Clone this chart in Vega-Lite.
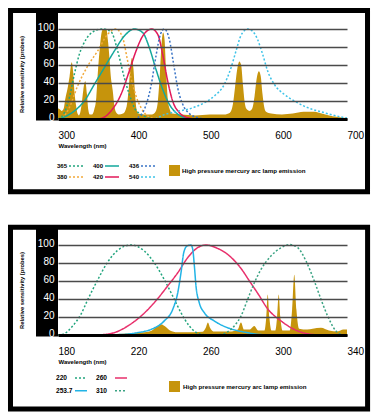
{
  "$schema": "https://vega.github.io/schema/vega-lite/v6.json",
  "padding": {"left": 7, "top": 7, "right": 0, "bottom": 0},
  "background": "white",
  "spacing": 29,
  "resolve": {
    "scale": {"stroke": "independent", "strokeDash": "independent", "fill": "independent"},
    "legend": {"stroke": "independent", "strokeDash": "independent", "fill": "independent"}
  },
  "config": {
    "view": {"stroke": null},
    "font": "Liberation Sans",
    "axisX": {"domain": true, "domainColor": "black", "domainWidth": 3, "ticks": false, "tickSize": 0, "grid": false, "labelAlign": "left", "labelBaseline": "top", "labelFlush": false, "labelOverlap": false, "labelFontSize": 10, "labelColor": "black", "labelPadding": 11, "titleFontSize": 6, "titleFontWeight": "bold", "titleColor": "black", "titleAnchor": "start", "titleAlign": "left", "titlePadding": 2},
    "axisY": {"domain": false, "ticks": false, "tickSize": 0, "grid": true, "gridColor": "#4a4a4a", "gridWidth": 1.6, "labelColor": "white", "labelFontSize": 10, "labelAlign": "right", "labelBaseline": "middle", "labelPadding": 4, "labelOffset": -2, "labelFlush": false, "labelOverlap": false, "titleFontSize": 5.8, "titleFontWeight": "bold", "titleColor": "black", "titlePadding": 12.5, "titleY": 61},
    "legend": {"orient": "none", "padding": 0, "labelFontSize": 6, "labelFontWeight": "bold", "labelColor": "black", "symbolStrokeWidth": 1.5, "labelLimit": 300}
  },
  "vconcat": [
    {
      "width": 289,
      "height": 106,
      "layer": [
        {
          "data": {"values": [{}]},
          "mark": {"type": "rect", "color": "black"},
          "encoding": {
            "x": {"datum": 269.55, "type": "quantitative", "title": "Wavelength (nm)", "scale": {"domain": [300, 700], "nice": false, "zero": false}, "axis": {"values": [300, 400, 500, 600, 700], "zindex": 1}},
            "x2": {"datum": 300},
            "y": {"datum": -1.7, "type": "quantitative", "title": "Relative sensitivity (probes)", "scale": {"domain": [0, 117.8], "nice": false}, "axis": {"values": [0, 20, 40, 60, 80, 100], "zindex": 1}},
            "y2": {"datum": 117.8}
          }
        },
        {
          "data": {"values": [
            {"nm": 300, "v": 12}, {"nm": 302, "v": 11}, {"nm": 305, "v": 9}, {"nm": 308, "v": 12}, {"nm": 310, "v": 22}, {"nm": 313, "v": 33}, {"nm": 316, "v": 47}, {"nm": 319, "v": 63}, {"nm": 321, "v": 52}, {"nm": 323, "v": 28}, {"nm": 325, "v": 15}, {"nm": 327, "v": 6}, {"nm": 329, "v": 4}, {"nm": 331, "v": 8}, {"nm": 333, "v": 18}, {"nm": 335, "v": 32}, {"nm": 337.8, "v": 42}, {"nm": 340, "v": 28}, {"nm": 342, "v": 10}, {"nm": 344, "v": 5}, {"nm": 347, "v": 5}, {"nm": 350, "v": 10}, {"nm": 353, "v": 24}, {"nm": 355, "v": 50}, {"nm": 358, "v": 80}, {"nm": 361, "v": 98}, {"nm": 363, "v": 100}, {"nm": 367, "v": 100}, {"nm": 369, "v": 88}, {"nm": 371, "v": 70}, {"nm": 373, "v": 48}, {"nm": 375.7, "v": 32}, {"nm": 378, "v": 15}, {"nm": 380, "v": 8}, {"nm": 384, "v": 5}, {"nm": 390, "v": 6}, {"nm": 395, "v": 14}, {"nm": 398, "v": 35}, {"nm": 400.5, "v": 60}, {"nm": 402.5, "v": 68}, {"nm": 404.5, "v": 55}, {"nm": 406.5, "v": 30}, {"nm": 408.5, "v": 12}, {"nm": 411, "v": 6}, {"nm": 420, "v": 5}, {"nm": 430, "v": 5}, {"nm": 435, "v": 8}, {"nm": 438, "v": 18}, {"nm": 441, "v": 50}, {"nm": 443.5, "v": 85}, {"nm": 445.5, "v": 96}, {"nm": 447.5, "v": 88}, {"nm": 449.5, "v": 55}, {"nm": 452, "v": 22}, {"nm": 455, "v": 10}, {"nm": 458, "v": 6}, {"nm": 470, "v": 5}, {"nm": 490, "v": 4}, {"nm": 510, "v": 5}, {"nm": 530, "v": 5}, {"nm": 538, "v": 7}, {"nm": 542, "v": 16}, {"nm": 545, "v": 35}, {"nm": 548, "v": 55}, {"nm": 551, "v": 64}, {"nm": 553.5, "v": 60}, {"nm": 556, "v": 38}, {"nm": 558.5, "v": 18}, {"nm": 561, "v": 11}, {"nm": 565, "v": 9}, {"nm": 569, "v": 12}, {"nm": 572, "v": 25}, {"nm": 575, "v": 45}, {"nm": 578, "v": 53}, {"nm": 580.5, "v": 48}, {"nm": 583, "v": 28}, {"nm": 585.5, "v": 13}, {"nm": 588, "v": 8}, {"nm": 595, "v": 6}, {"nm": 610, "v": 5}, {"nm": 625, "v": 6}, {"nm": 640, "v": 8}, {"nm": 655, "v": 8}, {"nm": 665, "v": 6}, {"nm": 680, "v": 3}, {"nm": 690, "v": 2}, {"nm": 700, "v": 1}
          ]},
          "mark": {"type": "area", "interpolate": "monotone", "opacity": 1},
          "encoding": {
            "x": {"field": "nm", "type": "quantitative", "title": "Wavelength (nm)", "axis": {"values": [300, 400, 500, 600, 700], "zindex": 1}},
            "y": {"field": "v", "type": "quantitative", "title": "Relative sensitivity (probes)", "axis": {"values": [0, 20, 40, 60, 80, 100], "zindex": 1}},
            "fill": {"datum": "High pressure mercury arc lamp emission", "type": "nominal", "scale": {"range": ["#c6940c"]}, "legend": {"title": null, "symbolType": "square", "symbolSize": 121, "symbolStrokeWidth": 0, "labelOffset": 2, "labelFontSize": 6.2, "legendX": 111, "legendY": 152}}
          }
        },
        {
          "data": {"values": [
            {"s": "365", "nm": 300, "v": 0}, {"s": "365", "nm": 302, "v": 0.7}, {"s": "365", "nm": 308.8, "v": 7}, {"s": "365", "nm": 315.7, "v": 23.7}, {"s": "365", "nm": 322.6, "v": 49.6}, {"s": "365", "nm": 329.5, "v": 71.8}, {"s": "365", "nm": 338.8, "v": 88.5}, {"s": "365", "nm": 350.3, "v": 97.8}, {"s": "365", "nm": 362, "v": 100}, {"s": "365", "nm": 373.4, "v": 97}, {"s": "365", "nm": 382.6, "v": 75.6}, {"s": "365", "nm": 391.8, "v": 45.9}, {"s": "365", "nm": 398.7, "v": 27.4}, {"s": "365", "nm": 405.7, "v": 12.6}, {"s": "365", "nm": 414.9, "v": 5}, {"s": "365", "nm": 425, "v": 1.5}, {"s": "365", "nm": 435, "v": 0},
            {"s": "380", "nm": 306.5, "v": 0.7}, {"s": "380", "nm": 315.7, "v": 12.6}, {"s": "380", "nm": 327.2, "v": 36.7}, {"s": "380", "nm": 341.1, "v": 58.9}, {"s": "380", "nm": 354.9, "v": 75.6}, {"s": "380", "nm": 368.7, "v": 94.1}, {"s": "380", "nm": 380.3, "v": 100}, {"s": "380", "nm": 389.5, "v": 90.4}, {"s": "380", "nm": 395.5, "v": 68.1}, {"s": "380", "nm": 401, "v": 45.9}, {"s": "380", "nm": 408, "v": 25.6}, {"s": "380", "nm": 414.9, "v": 12.6}, {"s": "380", "nm": 424.1, "v": 3.3}, {"s": "380", "nm": 433, "v": 0.5},
            {"s": "400", "nm": 302, "v": 0}, {"s": "400", "nm": 322.6, "v": 8.9}, {"s": "400", "nm": 336.5, "v": 20}, {"s": "400", "nm": 350.3, "v": 38.5}, {"s": "400", "nm": 364.1, "v": 57}, {"s": "400", "nm": 378, "v": 75.6}, {"s": "400", "nm": 391.8, "v": 92.2}, {"s": "400", "nm": 405.7, "v": 100}, {"s": "400", "nm": 417.2, "v": 96}, {"s": "400", "nm": 426.4, "v": 79.3}, {"s": "400", "nm": 435.6, "v": 55.2}, {"s": "400", "nm": 444.9, "v": 33}, {"s": "400", "nm": 454.1, "v": 16.3}, {"s": "400", "nm": 463.3, "v": 7}, {"s": "400", "nm": 474.9, "v": 1.5}, {"s": "400", "nm": 485, "v": 0},
            {"s": "420", "nm": 355, "v": 0}, {"s": "420", "nm": 365, "v": 2.5}, {"s": "420", "nm": 373.4, "v": 8.9}, {"s": "420", "nm": 387.2, "v": 27.4}, {"s": "420", "nm": 398.7, "v": 53.3}, {"s": "420", "nm": 408, "v": 75.6}, {"s": "420", "nm": 417.2, "v": 92.2}, {"s": "420", "nm": 429.7, "v": 100}, {"s": "420", "nm": 438, "v": 94.1}, {"s": "420", "nm": 444.9, "v": 71.8}, {"s": "420", "nm": 451.8, "v": 42.2}, {"s": "420", "nm": 458.7, "v": 20}, {"s": "420", "nm": 468, "v": 7}, {"s": "420", "nm": 479.5, "v": 1.5}, {"s": "420", "nm": 490, "v": 0},
            {"s": "436", "nm": 405, "v": 0}, {"s": "436", "nm": 410.3, "v": 1.5}, {"s": "436", "nm": 419.5, "v": 10.7}, {"s": "436", "nm": 428.7, "v": 36.7}, {"s": "436", "nm": 435.6, "v": 70}, {"s": "436", "nm": 441.7, "v": 94}, {"s": "436", "nm": 447.2, "v": 100}, {"s": "436", "nm": 454.1, "v": 88.5}, {"s": "436", "nm": 460.1, "v": 60.7}, {"s": "436", "nm": 465.6, "v": 34.8}, {"s": "436", "nm": 472.6, "v": 16.3}, {"s": "436", "nm": 481.8, "v": 6}, {"s": "436", "nm": 493.3, "v": 1.5}, {"s": "436", "nm": 505, "v": 0},
            {"s": "540", "nm": 435, "v": 0}, {"s": "540", "nm": 442.6, "v": 3.3}, {"s": "540", "nm": 461, "v": 7.8}, {"s": "540", "nm": 484.1, "v": 11.8}, {"s": "540", "nm": 502.5, "v": 18.1}, {"s": "540", "nm": 516.4, "v": 25.6}, {"s": "540", "nm": 530.2, "v": 38.5}, {"s": "540", "nm": 539.5, "v": 57}, {"s": "540", "nm": 546.4, "v": 75.6}, {"s": "540", "nm": 553.3, "v": 93}, {"s": "540", "nm": 562.5, "v": 100}, {"s": "540", "nm": 570, "v": 97}, {"s": "540", "nm": 576.4, "v": 88}, {"s": "540", "nm": 583.3, "v": 71.8}, {"s": "540", "nm": 590.2, "v": 53.3}, {"s": "540", "nm": 599.4, "v": 38.5}, {"s": "540", "nm": 613.2, "v": 27.4}, {"s": "540", "nm": 627.1, "v": 20}, {"s": "540", "nm": 645.6, "v": 12.6}, {"s": "540", "nm": 668.6, "v": 7}, {"s": "540", "nm": 696.3, "v": 1.5}, {"s": "540", "nm": 700, "v": 1}
          ]},
          "mark": {"type": "line", "interpolate": "monotone", "strokeWidth": 1.5},
          "encoding": {
            "x": {"field": "nm", "type": "quantitative", "title": "Wavelength (nm)", "axis": {"values": [300, 400, 500, 600, 700], "zindex": 1}},
            "y": {"field": "v", "type": "quantitative", "title": "Relative sensitivity (probes)", "axis": {"values": [0, 20, 40, 60, 80, 100], "zindex": 1}},
            "stroke": {"field": "s", "type": "nominal", "scale": {"domain": ["365", "380", "400", "420", "436", "540"], "range": ["#22a57e", "#f2a93a", "#13a89c", "#e2185a", "#3a74c6", "#3ec3e8"]}, "legend": {"title": null, "columns": 3, "symbolType": "stroke", "symbolSize": 196, "labelOffset": -27, "labelAlign": "left", "symbolOffset": 10, "columnPadding": 7, "rowPadding": -3, "legendX": 0, "legendY": 145}},
            "strokeDash": {"field": "s", "type": "nominal", "scale": {"domain": ["365", "380", "400", "420", "436", "540"], "range": [[2, 2], [2, 2], [1, 0], [1, 0], [2, 2], [2, 2]]}, "legend": {"title": null, "columns": 3, "symbolType": "stroke", "symbolSize": 196, "labelOffset": -27, "labelAlign": "left", "symbolOffset": 10, "columnPadding": 7, "rowPadding": -3, "legendX": 0, "legendY": 145}}
          }
        },
        {
          "data": {"values": [{}]},
          "mark": {"type": "rect", "filled": false, "stroke": "black", "strokeWidth": 5},
          "encoding": {
            "x": {"datum": 234.3, "type": "quantitative", "title": "Wavelength (nm)", "axis": {"values": [300, 400, 500, 600, 700], "zindex": 1}},
            "x2": {"datum": 728.4},
            "y": {"datum": 120.6, "type": "quantitative", "title": "Relative sensitivity (probes)", "axis": {"values": [0, 20, 40, 60, 80, 100], "zindex": 1}},
            "y2": {"datum": -80.8}
          }
        }
      ]
    },
    {
      "width": 289,
      "height": 106,
      "layer": [
        {
          "data": {"values": [{}]},
          "mark": {"type": "rect", "color": "black"},
          "encoding": {
            "x": {"datum": 167.82, "type": "quantitative", "title": "Wavelength (nm)", "scale": {"domain": [180, 340], "nice": false, "zero": false}, "axis": {"values": [180, 220, 260, 300, 340], "zindex": 1}},
            "x2": {"datum": 180},
            "y": {"datum": -1.7, "type": "quantitative", "title": "Relative sensitivity (probes)", "scale": {"domain": [0, 117.8], "nice": false}, "axis": {"values": [0, 20, 40, 60, 80, 100], "zindex": 1}},
            "y2": {"datum": 117.8}
          }
        },
        {
          "data": {"values": [
            {"nm": 205, "v": 0}, {"nm": 212, "v": 1}, {"nm": 220, "v": 2}, {"nm": 228, "v": 3}, {"nm": 232, "v": 5}, {"nm": 235, "v": 10}, {"nm": 237, "v": 12}, {"nm": 239, "v": 10}, {"nm": 242, "v": 5}, {"nm": 246, "v": 3}, {"nm": 255, "v": 3}, {"nm": 260, "v": 3.5}, {"nm": 261.8, "v": 8}, {"nm": 263, "v": 14}, {"nm": 264.2, "v": 8}, {"nm": 266, "v": 4}, {"nm": 276, "v": 4}, {"nm": 279.5, "v": 6}, {"nm": 281.3, "v": 14}, {"nm": 283, "v": 6}, {"nm": 286, "v": 6}, {"nm": 288.7, "v": 10}, {"nm": 290.8, "v": 5}, {"nm": 294.3, "v": 5}, {"nm": 295.3, "v": 20}, {"nm": 296.1, "v": 45}, {"nm": 297, "v": 20}, {"nm": 298.2, "v": 5}, {"nm": 300.3, "v": 5}, {"nm": 301.3, "v": 20}, {"nm": 302.2, "v": 45}, {"nm": 303.1, "v": 20}, {"nm": 304.3, "v": 5}, {"nm": 308.3, "v": 5}, {"nm": 309.6, "v": 28}, {"nm": 310.8, "v": 67}, {"nm": 312, "v": 28}, {"nm": 313.5, "v": 7}, {"nm": 318, "v": 6}, {"nm": 321, "v": 7}, {"nm": 325.6, "v": 8}, {"nm": 330, "v": 5}, {"nm": 334.8, "v": 4}, {"nm": 338, "v": 6}, {"nm": 340, "v": 6}
          ]},
          "mark": {"type": "area", "interpolate": "monotone", "opacity": 1},
          "encoding": {
            "x": {"field": "nm", "type": "quantitative", "title": "Wavelength (nm)", "axis": {"values": [180, 220, 260, 300, 340], "zindex": 1}},
            "y": {"field": "v", "type": "quantitative", "title": "Relative sensitivity (probes)", "axis": {"values": [0, 20, 40, 60, 80, 100], "zindex": 1}},
            "fill": {"datum": "High pressure mercury arc lamp emission", "type": "nominal", "scale": {"range": ["#c6940c"]}, "legend": {"title": null, "symbolType": "square", "symbolSize": 121, "symbolStrokeWidth": 0, "labelOffset": 3, "labelFontSize": 6.2, "legendX": 111, "legendY": 152}}
          }
        },
        {
          "data": {"values": [
            {"s": "220", "nm": 180, "v": 0}, {"s": "220", "nm": 182.6, "v": 0.7}, {"s": "220", "nm": 188.1, "v": 10}, {"s": "220", "nm": 192.7, "v": 23}, {"s": "220", "nm": 196.4, "v": 39}, {"s": "220", "nm": 201.9, "v": 61}, {"s": "220", "nm": 207.5, "v": 81}, {"s": "220", "nm": 213, "v": 94}, {"s": "220", "nm": 220.4, "v": 100}, {"s": "220", "nm": 227.8, "v": 93.3}, {"s": "220", "nm": 233.3, "v": 80.3}, {"s": "220", "nm": 238.8, "v": 61.8}, {"s": "220", "nm": 243.5, "v": 43.3}, {"s": "220", "nm": 248.1, "v": 24.8}, {"s": "220", "nm": 252.7, "v": 10}, {"s": "220", "nm": 259.2, "v": 0.7}, {"s": "220", "nm": 265, "v": 0},
            {"s": "260", "nm": 200, "v": 0}, {"s": "260", "nm": 203.8, "v": 0.3}, {"s": "260", "nm": 211.2, "v": 2.6}, {"s": "260", "nm": 218.6, "v": 10}, {"s": "260", "nm": 226, "v": 21.1}, {"s": "260", "nm": 233.3, "v": 35.9}, {"s": "260", "nm": 240.7, "v": 54.4}, {"s": "260", "nm": 246.3, "v": 69.2}, {"s": "260", "nm": 251.8, "v": 85.9}, {"s": "260", "nm": 257.3, "v": 97}, {"s": "260", "nm": 261.9, "v": 100}, {"s": "260", "nm": 267.5, "v": 97}, {"s": "260", "nm": 273.9, "v": 89.6}, {"s": "260", "nm": 281.3, "v": 74}, {"s": "260", "nm": 286, "v": 60}, {"s": "260", "nm": 291, "v": 45}, {"s": "260", "nm": 296.1, "v": 29}, {"s": "260", "nm": 303.5, "v": 15.6}, {"s": "260", "nm": 310.8, "v": 6.2}, {"s": "260", "nm": 318.2, "v": 1.4}, {"s": "260", "nm": 325.6, "v": 0},
            {"s": "253.7", "nm": 200, "v": 0}, {"s": "253.7", "nm": 215, "v": 0.5}, {"s": "253.7", "nm": 224, "v": 2.6}, {"s": "253.7", "nm": 231.5, "v": 6.2}, {"s": "253.7", "nm": 238.8, "v": 15.6}, {"s": "253.7", "nm": 243.5, "v": 28.4}, {"s": "253.7", "nm": 246.3, "v": 47}, {"s": "253.7", "nm": 248.1, "v": 69.2}, {"s": "253.7", "nm": 249.6, "v": 91.4}, {"s": "253.7", "nm": 251.4, "v": 98.9}, {"s": "253.7", "nm": 253.6, "v": 100}, {"s": "253.7", "nm": 254.6, "v": 95.1}, {"s": "253.7", "nm": 255.5, "v": 76.7}, {"s": "253.7", "nm": 256.4, "v": 54.4}, {"s": "253.7", "nm": 258.2, "v": 35.9}, {"s": "253.7", "nm": 261, "v": 24.8}, {"s": "253.7", "nm": 266.5, "v": 15.6}, {"s": "253.7", "nm": 273.9, "v": 8.1}, {"s": "253.7", "nm": 285, "v": 2.6}, {"s": "253.7", "nm": 292, "v": 0.5}, {"s": "253.7", "nm": 300, "v": 0},
            {"s": "310", "nm": 265, "v": 0}, {"s": "310", "nm": 270.2, "v": 0.7}, {"s": "310", "nm": 277.6, "v": 10}, {"s": "310", "nm": 281.3, "v": 21}, {"s": "310", "nm": 285, "v": 39.6}, {"s": "310", "nm": 288.7, "v": 58}, {"s": "310", "nm": 292.4, "v": 72.9}, {"s": "310", "nm": 297.9, "v": 87.8}, {"s": "310", "nm": 303.5, "v": 97}, {"s": "310", "nm": 308, "v": 100.5}, {"s": "310", "nm": 312.7, "v": 97}, {"s": "310", "nm": 317.3, "v": 82.2}, {"s": "310", "nm": 321.9, "v": 60}, {"s": "310", "nm": 325.6, "v": 39.6}, {"s": "310", "nm": 329.3, "v": 21}, {"s": "310", "nm": 333.9, "v": 4.4}, {"s": "310", "nm": 336.7, "v": 0.7}, {"s": "310", "nm": 340, "v": 0}
          ]},
          "mark": {"type": "line", "interpolate": "monotone", "strokeWidth": 1.5},
          "encoding": {
            "x": {"field": "nm", "type": "quantitative", "title": "Wavelength (nm)", "axis": {"values": [180, 220, 260, 300, 340], "zindex": 1}},
            "y": {"field": "v", "type": "quantitative", "title": "Relative sensitivity (probes)", "axis": {"values": [0, 20, 40, 60, 80, 100], "zindex": 1}},
            "stroke": {"field": "s", "type": "nominal", "scale": {"domain": ["220", "253.7", "260", "310"], "range": ["#22a57e", "#22b4e6", "#e8306c", "#3aa383"]}, "legend": {"title": null, "columns": 2, "symbolType": "stroke", "symbolSize": 144, "labelOffset": -32, "labelAlign": "left", "symbolOffset": 16, "labelFontSize": 6.6, "columnPadding": 6, "rowPadding": 2, "legendX": 0, "legendY": 141.7}},
            "strokeDash": {"field": "s", "type": "nominal", "scale": {"domain": ["220", "253.7", "260", "310"], "range": [[2, 2], [1, 0], [1, 0], [2, 2]]}, "legend": {"title": null, "columns": 2, "symbolType": "stroke", "symbolSize": 144, "labelOffset": -32, "labelAlign": "left", "symbolOffset": 16, "labelFontSize": 6.6, "columnPadding": 6, "rowPadding": 2, "legendX": 0, "legendY": 141.7}}
          }
        },
        {
          "data": {"values": [{}]},
          "mark": {"type": "rect", "filled": false, "stroke": "black", "strokeWidth": 5},
          "encoding": {
            "x": {"datum": 153.7, "type": "quantitative", "title": "Wavelength (nm)", "axis": {"values": [180, 220, 260, 300, 340], "zindex": 1}},
            "x2": {"datum": 351.4},
            "y": {"datum": 119.8, "type": "quantitative", "title": "Relative sensitivity (probes)", "axis": {"values": [0, 20, 40, 60, 80, 100], "zindex": 1}},
            "y2": {"datum": -82.2}
          }
        }
      ]
    }
  ]
}
